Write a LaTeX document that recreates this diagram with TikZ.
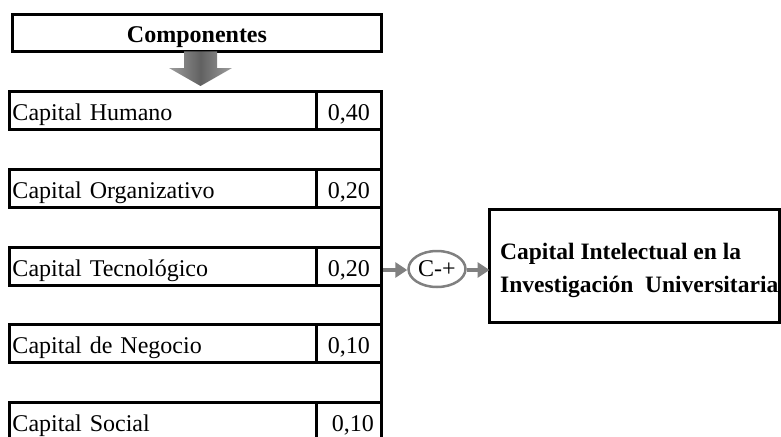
\documentclass[tikz,border=0pt]{standalone}
\usepackage{fontspec}
\setmainfont{Liberation Serif}
\usetikzlibrary{arrows.meta,shapes.geometric}
\definecolor{flowgray}{RGB}{128,128,128}
\begin{document}
\begin{tikzpicture}[x=1pt,y=-1pt,
  cell/.style={draw=black, line width=3pt, rectangle, inner sep=0pt, outer sep=0pt,
    text height=20pt, text depth=0pt, font=\fontsize{24}{28}\selectfont},
  namecell/.style={cell, minimum height=38pt, minimum width=306.5pt,
    text width=300.5pt, inner xsep=3pt, align=left, anchor=west},
  valcell/.style={cell, minimum height=38pt, minimum width=65.5pt, anchor=west},
  flow/.style={draw=flowgray, line width=3.5pt, -{Triangle[length=12pt,width=15pt]}},
]
\clip (0,0) rectangle (781,436);

% header
\node[cell, minimum width=369pt, minimum height=37pt,
  font=\bfseries\fontsize{24}{28}\selectfont] (comp) at (197,33) {Componentes};

% broad down arrow under the header
\shade[left color=black!38, right color=black!38, middle color=black!62]
  (184,51.5) -- (217,51.5) -- (217,68) -- (232,68) -- (200.5,86)
  -- (169,68) -- (184,68) -- cycle;

% component rows with their weights
\node[namecell] (n1) at (9.5,110) {Capital Humano};
\node[valcell] (v1) at (n1.east) {0,40};
\node[namecell] (n2) at (9.5,188.5) {Capital Organizativo};
\node[valcell] (v2) at (n2.east) {0,20};
\node[namecell] (n3) at (9.5,266.5) {Capital Tecnológico};
\node[valcell] (v3) at (n3.east) {0,20};
\node[namecell] (n4) at (9.5,343.5) {Capital de Negocio};
\node[valcell] (v4) at (n4.east) {0,10};
\node[namecell] (n5) at (9.5,421.5) {Capital Social};
\node[valcell] (v5) at (n5.east) {\hspace{8pt}0,10};

% collecting bus on the right of the rows
\coordinate (busend) at (381.5,440);
\draw[line width=3pt] (v1.north east) -- (busend);

% combination operator and result
\coordinate (tap) at (383,270);
\node[draw=flowgray, line width=2.5pt, ellipse, minimum width=57pt, minimum height=36pt,
  inner sep=0pt, font=\fontsize{24}{28}\selectfont] (op) at (437,269) {C-+};
\node[cell, minimum width=290pt, minimum height=113pt] (res) at (634.5,266) {};
\node[anchor=west, align=left, inner sep=0pt,
  font=\bfseries\fontsize{23.5}{33}\selectfont] (restext) at (500,270)
  {Capital Intelectual en la\\Investigación~~Universitaria};

\draw[flow] (tap) -- (tap -| op.west);
\draw[flow] (op.east |- tap) -- (tap -| res.west);
\end{tikzpicture}
\end{document}
